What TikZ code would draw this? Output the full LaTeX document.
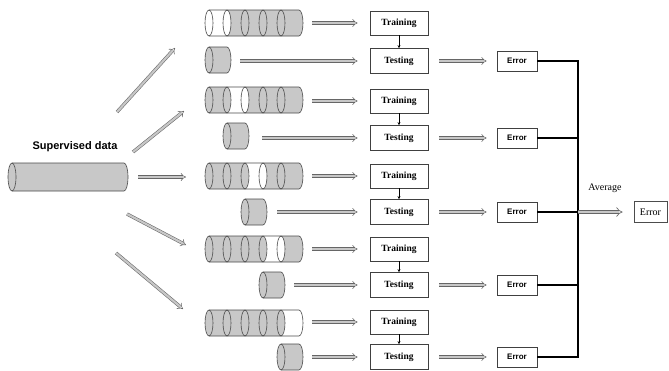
\documentclass[tikz,border=0pt]{standalone}
\usepackage{fontspec}
\setmainfont{Liberation Serif}
\newfontfamily\sansfam{Liberation Sans}
\usetikzlibrary{arrows.meta}
\definecolor{cylgray}{HTML}{C8C8C8}
\definecolor{edgec}{HTML}{4A4A4A}
\newcommand{\mycyl}[6]{% #1 x0, #2 yc, #3 nseg, #4 white idx, #5 seg width, #6 ry
  \foreach \i in {1,...,#3}{%
    \pgfmathsetmacro\xa{#1+(\i-1)*#5}%
    \pgfmathsetmacro\xb{#1+\i*#5}%
    \ifnum\i=#4 \def\segcol{white}\else\def\segcol{cylgray}\fi
    \fill[\segcol] (\xa,#2+#6) -- (\xb,#2+#6) arc[start angle=90,end angle=-90,x radius=4,y radius=#6]
      -- (\xa,#2-#6) arc[start angle=-90,end angle=90,x radius=4,y radius=#6] -- cycle;
  }%
  \ifnum#4=1 \def\facecol{white}\else\def\facecol{cylgray}\fi
  \fill[\facecol] (#1,#2) ellipse[x radius=4,y radius=#6];
  \pgfmathsetmacro\xe{#1+#3*#5}%
  \draw[cyledge] (#1,#2+#6) -- (\xe,#2+#6) arc[start angle=90,end angle=-90,x radius=4,y radius=#6] -- (#1,#2-#6);
  \pgfmathtruncatemacro\nm{#3-1}%
  \foreach \i in {0,...,\nm}{%
    \pgfmathsetmacro\xa{#1+\i*#5}%
    \draw[cyledge] (\xa,#2) ellipse[x radius=4,y radius=#6];
  }%
}
\begin{document}
\begin{tikzpicture}[x=1pt,y=1pt,
  cyledge/.style={draw=edgec,line width=0.6pt},
  hollow/.style={draw=black!60,double=black!22,double distance=2.2pt,line width=0.55pt,-{Implies}},
  tbox/.style={draw=black!75,line width=0.7pt,minimum width=58pt,minimum height=24pt,inner sep=0pt,
    font=\fontsize{9.5}{11}\selectfont\bfseries},
  ebox/.style={draw=black!75,line width=0.7pt,minimum width=40pt,minimum height=20pt,inner sep=0pt,
    font=\sansfam\fontsize{8}{9}\selectfont\bfseries},
  fbox/.style={draw=black!70,line width=0.8pt,minimum width=33pt,minimum height=21pt,inner sep=0pt,
    font=\fontsize{10}{11}\selectfont},
  busline/.style={draw=black,line width=1.3pt},
  small/.style={draw=black,line width=0.5pt,-{Stealth[length=3pt,width=3pt]}}]
\useasboundingbox (0,0) rectangle (669,-370);

% main cylinder
\mycyl{12}{-177}{1}{0}{112}{14}
\node[font=\sansfam\fontsize{11}{13}\selectfont\bfseries] (sup) at (75,-147) {Supervised data};

% folds
\mycyl{209}{-23}{5}{1}{18}{13}
\mycyl{209}{-60}{1}{0}{18}{13}
\mycyl{209}{-100}{5}{2}{18}{13}
\mycyl{227}{-136}{1}{0}{18}{13}
\mycyl{209}{-176}{5}{3}{18}{13}
\mycyl{245}{-212}{1}{0}{18}{13}
\mycyl{209}{-249}{5}{4}{18}{13}
\mycyl{263}{-285}{1}{0}{18}{13}
\mycyl{209}{-323}{5}{5}{18}{13}
\mycyl{281}{-357}{1}{0}{18}{13}

% boxes
\node[tbox] (T1) at (399,-23) {Training};
\node[tbox,minimum height=25pt] (S1) at (399,-61) {Testing};
\node[tbox] (T2) at (399,-101) {Training};
\node[tbox,minimum height=25pt] (S2) at (399,-138) {Testing};
\node[tbox] (T3) at (399,-176) {Training};
\node[tbox,minimum height=25pt] (S3) at (399,-212) {Testing};
\node[tbox] (T4) at (399,-249) {Training};
\node[tbox,minimum height=25pt] (S4) at (399,-285) {Testing};
\node[tbox] (T5) at (399,-322) {Training};
\node[tbox,minimum height=25pt] (S5) at (399,-357) {Testing};

\node[ebox] (E1) at (517,-61) {Error};
\node[ebox] (E2) at (517,-138) {Error};
\node[ebox] (E3) at (517,-212) {Error};
\node[ebox] (E4) at (517,-285) {Error};
\node[ebox] (E5) at (517,-357) {Error};
\node[fbox] (EF) at (650.5,-212) {Error};
\node[font=\fontsize{10}{11}\selectfont] (avgl) at (605,-188) {Average};

% arrows: train -> test
\foreach \k in {1,...,5}{ \draw[small] (T\k) -- (S\k); }

% arrow start coordinates
\coordinate (m0) at (138,-177);
\coordinate (d1a) at (117,-112); \coordinate (d1b) at (175,-48);
\coordinate (d2a) at (133,-152); \coordinate (d2b) at (184,-111);
\coordinate (d3a) at (127,-214); \coordinate (d3b) at (186,-245);
\coordinate (d4a) at (116,-253); \coordinate (d4b) at (183,-309);
\coordinate (m1) at (186,-177);
\draw[hollow] (m0) -- (m1);
\draw[hollow] (d1a) -- (d1b);
\draw[hollow] (d2a) -- (d2b);
\draw[hollow] (d3a) -- (d3b);
\draw[hollow] (d4a) -- (d4b);

\coordinate (L1) at (312,-23); \coordinate (L2) at (312,-101); \coordinate (L3) at (312,-176);
\coordinate (L4) at (312,-249); \coordinate (L5) at (312,-322);
\coordinate (P1) at (240,-61); \coordinate (P2) at (262,-138); \coordinate (P3) at (277,-212);
\coordinate (P4) at (294,-285); \coordinate (P5) at (312,-357);
\coordinate (Q1) at (439,-61); \coordinate (Q2) at (439,-138); \coordinate (Q3) at (439,-212);
\coordinate (Q4) at (439,-285); \coordinate (Q5) at (439,-357);
\foreach \k in {1,...,5}{
  \draw[hollow,shorten >=12pt] (L\k) -- (T\k.west);
  \draw[hollow,shorten >=12pt] (P\k) -- (S\k.west);
  \draw[hollow,shorten >=10pt] (Q\k) -- (E\k.west);
}

% bus
\coordinate (avg) at (578,-212);
\draw[busline] (E1.east) -| (avg);
\draw[busline] (E5.east) -| (avg);
\draw[busline] (E2.east) -- (E2.east -| avg);
\draw[busline] (E3.east) -- (E3.east -| avg);
\draw[busline] (E4.east) -- (E4.east -| avg);
\draw[hollow,line width=0.7pt,double distance=2.6pt,shorten >=11pt] (avg) -- (EF.west);
\end{tikzpicture}
\end{document}
